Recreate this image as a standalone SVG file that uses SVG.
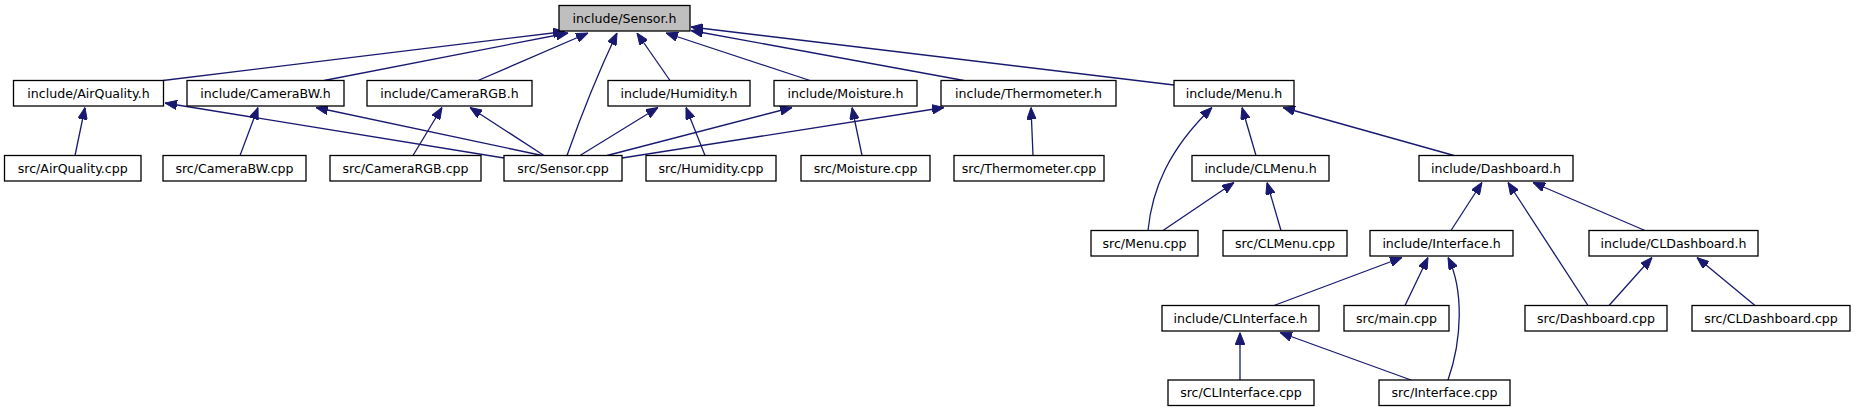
<svg xmlns="http://www.w3.org/2000/svg" width="1856" height="411" viewBox="0 0 1856 411">
<style>
.n rect{fill:#fff;stroke:#000;stroke-width:1.3}
#sensor_h rect{fill:#bfbfbf}
.n text{font-family:"DejaVu Sans",sans-serif;font-size:12.6px;text-anchor:middle;fill:#000}
.e path{fill:none;stroke:#191970;stroke-width:1.3}
</style>
<defs>
<marker id="ah" viewBox="0 0 12 9.5" refX="12" refY="4.75" markerWidth="12" markerHeight="9.5" markerUnits="userSpaceOnUse" orient="auto">
<path d="M0,0 L12,4.75 L0,9.5 z" fill="#191970" stroke="#191970" stroke-width="1"/>
</marker>
</defs>
<rect width="1856" height="411" fill="#fff"/>
<g class="e">
<path d="M163,80.5 L565,31.5" marker-end="url(#ah)"/>
<path d="M324,80.5 L568,33" marker-end="url(#ah)"/>
<path d="M478,80.5 L588,33" marker-end="url(#ah)"/>
<path d="M567,155.5 Q590,90 617,33" marker-end="url(#ah)"/>
<path d="M670,80.5 L637,33" marker-end="url(#ah)"/>
<path d="M810,80.5 L666,33" marker-end="url(#ah)"/>
<path d="M964,80.5 L691,30.5" marker-end="url(#ah)"/>
<path d="M1174,85 L691,27" marker-end="url(#ah)"/>
<path d="M75,155.5 L85,107.5" marker-end="url(#ah)"/>
<path d="M504,158 L165,103" marker-end="url(#ah)"/>
<path d="M240,155.5 L258,107.5" marker-end="url(#ah)"/>
<path d="M542,155.5 L316,107.5" marker-end="url(#ah)"/>
<path d="M413,155.5 L442,107.5" marker-end="url(#ah)"/>
<path d="M544,155.5 L470,107.5" marker-end="url(#ah)"/>
<path d="M580,155.5 L658,107.5" marker-end="url(#ah)"/>
<path d="M705,155.5 L686,107.5" marker-end="url(#ah)"/>
<path d="M607,155.5 L792,107.5" marker-end="url(#ah)"/>
<path d="M622,158 L944,107.5" marker-end="url(#ah)"/>
<path d="M862,155.5 L852,107.5" marker-end="url(#ah)"/>
<path d="M1033,155.5 L1031,107.5" marker-end="url(#ah)"/>
<path d="M1148,230.5 C1152,190 1168,150 1212,107.5" marker-end="url(#ah)"/>
<path d="M1256,155.5 L1242,107.5" marker-end="url(#ah)"/>
<path d="M1454,155.5 L1283,107.5" marker-end="url(#ah)"/>
<path d="M1163,230.5 L1234,182.5" marker-end="url(#ah)"/>
<path d="M1281,230.5 L1267,182.5" marker-end="url(#ah)"/>
<path d="M1451,230.5 L1482,182.5" marker-end="url(#ah)"/>
<path d="M1588,305.5 L1508,182.5" marker-end="url(#ah)"/>
<path d="M1645,230.5 L1533,182.5" marker-end="url(#ah)"/>
<path d="M1274,305.5 L1402,257.5" marker-end="url(#ah)"/>
<path d="M1405,305.5 L1428,257.5" marker-end="url(#ah)"/>
<path d="M1448,380 C1462,340 1464,290 1448,257.5" marker-end="url(#ah)"/>
<path d="M1609,305.5 L1652,257.5" marker-end="url(#ah)"/>
<path d="M1755,305.5 L1697,257.5" marker-end="url(#ah)"/>
<path d="M1240,380 L1240,332.5" marker-end="url(#ah)"/>
<path d="M1411,380 L1280,332.5" marker-end="url(#ah)"/>
</g>
<g id="sensor_h" class="n"><rect x="559" y="5.5" width="131" height="25.5"/><text x="624.5" y="22.7">include/Sensor.h</text></g>
<g id="airquality_h" class="n"><rect x="13.5" y="80.5" width="150" height="25.5"/><text x="88.5" y="97.7">include/AirQuality.h</text></g>
<g id="camerabw_h" class="n"><rect x="187" y="80.5" width="157" height="25.5"/><text x="265.5" y="97.7">include/CameraBW.h</text></g>
<g id="camerargb_h" class="n"><rect x="367" y="80.5" width="165" height="25.5"/><text x="449.5" y="97.7">include/CameraRGB.h</text></g>
<g id="humidity_h" class="n"><rect x="608" y="80.5" width="142" height="25.5"/><text x="679" y="97.7">include/Humidity.h</text></g>
<g id="moisture_h" class="n"><rect x="774" y="80.5" width="143" height="25.5"/><text x="845.5" y="97.7">include/Moisture.h</text></g>
<g id="thermometer_h" class="n"><rect x="941" y="80.5" width="175" height="25.5"/><text x="1028.5" y="97.7">include/Thermometer.h</text></g>
<g id="menu_h" class="n"><rect x="1174" y="80.5" width="120" height="25.5"/><text x="1234" y="97.7">include/Menu.h</text></g>
<g id="src_airquality" class="n"><rect x="4.5" y="155.5" width="136.5" height="25.5"/><text x="72.75" y="172.7">src/AirQuality.cpp</text></g>
<g id="src_camerabw" class="n"><rect x="163" y="155.5" width="143" height="25.5"/><text x="234.5" y="172.7">src/CameraBW.cpp</text></g>
<g id="src_camerargb" class="n"><rect x="330" y="155.5" width="151" height="25.5"/><text x="405.5" y="172.7">src/CameraRGB.cpp</text></g>
<g id="src_sensor" class="n"><rect x="504" y="155.5" width="118" height="25.5"/><text x="563" y="172.7">src/Sensor.cpp</text></g>
<g id="src_humidity" class="n"><rect x="646" y="155.5" width="130" height="25.5"/><text x="711" y="172.7">src/Humidity.cpp</text></g>
<g id="src_moisture" class="n"><rect x="801" y="155.5" width="129" height="25.5"/><text x="865.5" y="172.7">src/Moisture.cpp</text></g>
<g id="src_thermometer" class="n"><rect x="954" y="155.5" width="150" height="25.5"/><text x="1029" y="172.7">src/Thermometer.cpp</text></g>
<g id="clmenu_h" class="n"><rect x="1192" y="155.5" width="137" height="25.5"/><text x="1260.5" y="172.7">include/CLMenu.h</text></g>
<g id="dashboard_h" class="n"><rect x="1419" y="155.5" width="154" height="25.5"/><text x="1496" y="172.7">include/Dashboard.h</text></g>
<g id="src_menu" class="n"><rect x="1091" y="230.5" width="107" height="25.5"/><text x="1144.5" y="247.7">src/Menu.cpp</text></g>
<g id="src_clmenu" class="n"><rect x="1223" y="230.5" width="124" height="25.5"/><text x="1285" y="247.7">src/CLMenu.cpp</text></g>
<g id="interface_h" class="n"><rect x="1370" y="230.5" width="143" height="25.5"/><text x="1441.5" y="247.7">include/Interface.h</text></g>
<g id="cldashboard_h" class="n"><rect x="1589" y="230.5" width="169" height="25.5"/><text x="1673.5" y="247.7">include/CLDashboard.h</text></g>
<g id="clinterface_h" class="n"><rect x="1162" y="305.5" width="157" height="25.5"/><text x="1240.5" y="322.7">include/CLInterface.h</text></g>
<g id="src_main" class="n"><rect x="1344" y="305.5" width="105" height="25.5"/><text x="1396.5" y="322.7">src/main.cpp</text></g>
<g id="src_dashboard" class="n"><rect x="1525" y="305.5" width="142" height="25.5"/><text x="1596" y="322.7">src/Dashboard.cpp</text></g>
<g id="src_cldashboard" class="n"><rect x="1692" y="305.5" width="158" height="25.5"/><text x="1771" y="322.7">src/CLDashboard.cpp</text></g>
<g id="src_clinterface" class="n"><rect x="1168" y="380" width="146" height="25.5"/><text x="1241" y="397.2">src/CLInterface.cpp</text></g>
<g id="src_interface" class="n"><rect x="1379" y="380" width="131" height="25.5"/><text x="1444.5" y="397.2">src/Interface.cpp</text></g>
</svg>
